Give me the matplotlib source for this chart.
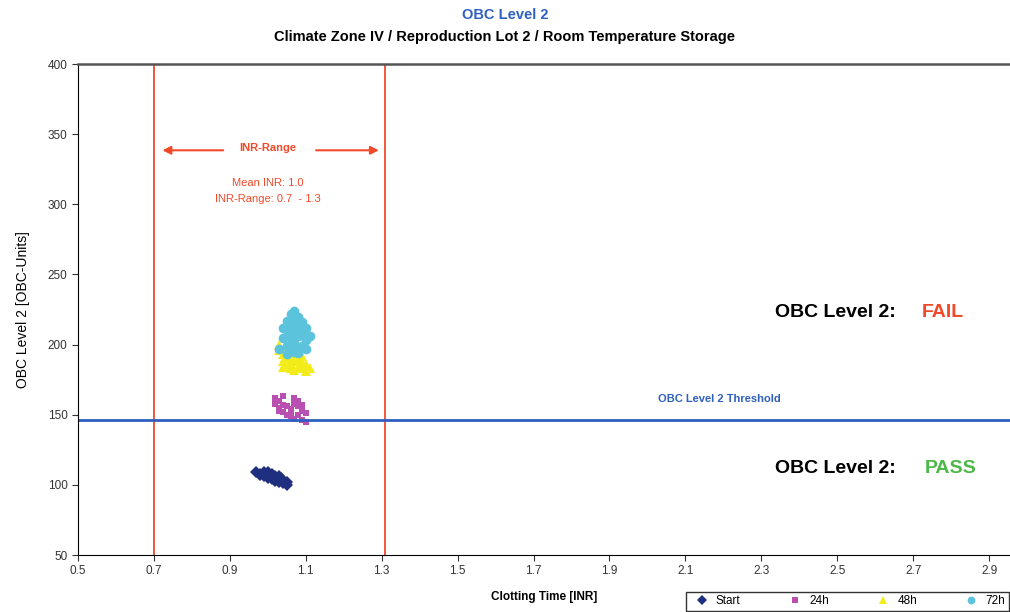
import matplotlib.pyplot as plt

plt.rcParams['font.family'] = ['Liberation Sans', 'DejaVu Sans']

# INR clotting time vs OBC units, per storage time
start_x = [0.97, 0.98, 0.99, 0.99, 1.00, 1.00, 1.01, 1.01, 1.02, 1.02, 1.02, 1.03,
           1.03, 1.03, 1.04, 1.04, 1.05, 1.05, 1.00, 1.01, 1.02, 0.98, 0.995, 1.035]
start_y = [109, 107, 109, 106, 107, 105, 108, 104, 106, 103, 105, 104,
           102, 106, 103, 101, 102, 100, 109, 106, 104, 108, 108, 105]

h24_x = [1.02, 1.02, 1.03, 1.03, 1.04, 1.04, 1.05, 1.05, 1.06, 1.06, 1.07, 1.07,
         1.08, 1.08, 1.09, 1.09, 1.10, 1.10, 1.04, 1.06, 1.08, 1.07, 1.03, 1.09]
h24_y = [158, 162, 155, 160, 152, 157, 150, 156, 149, 154, 147, 158,
         150, 160, 146, 153, 145, 151, 163, 151, 156, 162, 153, 157]

h48_x = [1.03, 1.04, 1.04, 1.05, 1.05, 1.06, 1.06, 1.07, 1.07, 1.08, 1.08, 1.09,
         1.09, 1.10, 1.10, 1.05, 1.07, 1.09, 1.04, 1.06, 1.08, 1.03, 1.11, 1.06]
h48_y = [196, 188, 193, 185, 191, 183, 189, 182, 188, 184, 190, 183,
         187, 181, 186, 196, 194, 192, 184, 197, 195, 200, 183, 186]

h72_x = [1.04, 1.05, 1.05, 1.06, 1.06, 1.07, 1.07, 1.08, 1.08, 1.09, 1.09, 1.10,
         1.10, 1.05, 1.06, 1.07, 1.08, 1.09, 1.06, 1.07, 1.08, 1.04, 1.11, 1.05,
         1.06, 1.07, 1.08, 1.09, 1.10, 1.03, 1.05, 1.07]
h72_y = [205, 199, 212, 196, 216, 201, 209, 194, 214, 199, 207, 203,
         212, 206, 222, 218, 220, 216, 205, 213, 206, 212, 206, 193,
         199, 224, 196, 211, 197, 197, 217, 195]

series = [
    ("Start", start_x, start_y, "D", "#1f2f7f", 6),
    ("24h", h24_x, h24_y, "s", "#b94fb0", 5),
    ("48h", h48_x, h48_y, "^", "#f2ec1a", 7),
    ("72h", h72_x, h72_y, "o", "#5bc3dc", 7),
]

xticks = [0.5, 0.7, 0.9, 1.1, 1.3, 1.5, 1.7, 1.9, 2.1, 2.3, 2.5, 2.7, 2.9]
yticks = [50, 100, 150, 200, 250, 300, 350, 400]
threshold = 146
inr_low, inr_high = 0.7, 1.31

fig = plt.figure(figsize=(10.1, 6.12), dpi=100)
ax = fig.add_axes([0.0772, 0.0931, 0.9228, 0.8023])

for name, xs, ys, m, c, ms in series:
    ax.plot(xs, ys, linestyle="none", marker=m, color=c, markersize=ms,
            markeredgewidth=0, label=name)

red = "#f04a2a"
ax.axvline(inr_low, color=red, lw=1.3)
ax.axvline(inr_high, color=red, lw=1.3)
ax.axhline(threshold, color="#2f5fbf", lw=2)

ax.set_xlim(0.5, 2.955)
ax.set_ylim(50, 400)
ax.set_xticks(xticks)
ax.set_yticks(yticks)
ax.set_xticklabels(["%.1f" % v for v in xticks])
ax.tick_params(labelsize=8.5, colors="#333333", length=4)
ax.spines["right"].set_visible(False)
ax.spines["top"].set_color("#555555")
ax.spines["top"].set_linewidth(1.8)

ax.set_ylabel("OBC Level 2 [OBC-Units]", fontsize=10, labelpad=13)
ax.set_xlabel("Clotting Time [INR]", fontsize=8.5, fontweight="bold", labelpad=10)

fig.text(0.5, 0.975, "OBC Level 2", ha="center", va="center", color="#2f5fbf",
         fontsize=10.5, fontweight="bold")
fig.text(0.5, 0.94, "Climate Zone IV / Reproduction Lot 2 / Room Temperature Storage",
         ha="center", va="center", fontsize=10.5, fontweight="bold")

ax.annotate("", xy=(0.715, 338.5), xytext=(0.89, 338.5),
            arrowprops=dict(arrowstyle="-|>", color=red, lw=1.5, mutation_scale=12))
ax.annotate("", xy=(1.30, 338.5), xytext=(1.12, 338.5),
            arrowprops=dict(arrowstyle="-|>", color=red, lw=1.5, mutation_scale=12))
ax.text(1.0, 340, "INR-Range", color=red, fontsize=8, fontweight="bold",
        ha="center", va="center")
ax.text(1.0, 315, "Mean INR: 1.0", color=red, fontsize=8, ha="center", va="center")
ax.text(1.0, 303.5, "INR-Range: 0.7  - 1.3", color=red, fontsize=8, ha="center", va="center")

ax.text(2.335, 223, "OBC Level 2:", fontsize=14, fontweight="bold",
        ha="left", va="center")
ax.text(2.723, 223, "FAIL", fontsize=14, fontweight="bold", color=red,
        ha="left", va="center")
ax.text(2.335, 112, "OBC Level 2:", fontsize=14, fontweight="bold",
        ha="left", va="center")
ax.text(2.731, 112, "PASS", fontsize=14, fontweight="bold", color="#4cb848",
        ha="left", va="center")
ax.text(2.19, 161, "OBC Level 2 Threshold", fontsize=8, fontweight="bold",
        color="#2f5fbf", ha="center", va="center")

fig.legend(loc="lower right", bbox_to_anchor=(1.0, 0.0), ncol=4, fontsize=8.5,
           frameon=True, fancybox=False, edgecolor="black", handletextpad=0.2,
           columnspacing=3.6, borderpad=0.3, borderaxespad=0.1, markerscale=0.8)

fig.savefig("out.png", dpi=100)
